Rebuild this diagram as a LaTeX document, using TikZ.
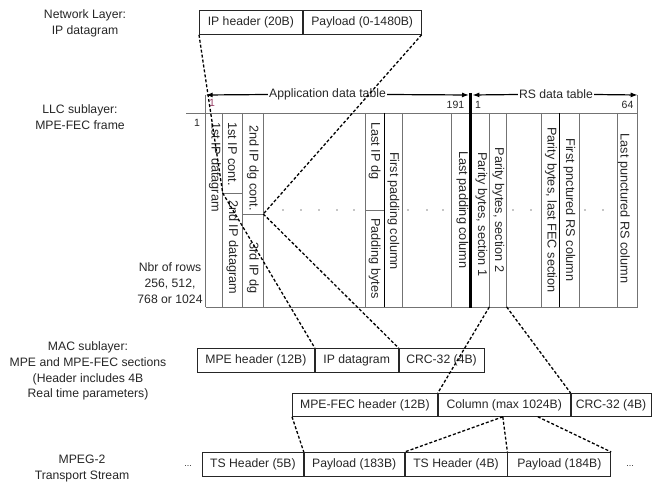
\documentclass[tikz,border=0pt]{standalone}
\usepackage{fontspec}
\setmainfont{Liberation Sans}
\usetikzlibrary{arrows.meta,calc}
\begin{document}
\begin{tikzpicture}[x=1pt,y=-1pt,
  every node/.style={font=\fontsize{12.2}{15.5}\selectfont, text=black!85},
  cell/.style={draw=black!85, line width=0.8pt, inner sep=0pt, anchor=north west, minimum height=24pt},
  conn/.style={draw=black, line width=1.3pt, dash pattern=on 3pt off 2pt},
  gridline/.style={draw=black!55, line width=0.8pt},
  vlab/.style={rotate=-90, inner sep=0pt, font=\fontsize{12.7}{15}\selectfont},
  lab/.style={align=center, font=\fontsize{12.2}{15.7}\selectfont},
  num/.style={inner sep=0pt, font=\fontsize{10.5}{12}\selectfont},
  tblarrow/.style={line width=1.2pt, -{Latex[length=7pt,width=5pt]}}]

\useasboundingbox (0,0) rectangle (652,486);

% left labels
\node[lab] (netl) at (85,23) {Network Layer:\\IP datagram};
\node[lab] (llcl) at (80,117) {LLC sublayer:\\MPE-FEC frame};
\node[lab] (nbrl) at (170,283) {Nbr of rows\\256, 512,\\768 or 1024};
\node[lab] (macl) at (88,371) {MAC sublayer:\\MPE and MPE-FEC sections\\(Header includes 4B\\Real time parameters)};
\node[lab] (mpgl) at (82,468.5) {MPEG-2\\Transport Stream};

% IP datagram
\node[cell, minimum width=103pt] (iph) at (199,10) {IP header (20B)};
\node[cell, minimum width=118pt] (ipp) at (iph.north east) {Payload (0-1480B)};

% table frame
\draw[gridline] (186,113) -- (637.7,113);
\draw[gridline] (205.7,307) -- (637.7,307);
\draw[gridline] (205.7,95) -- (205.7,307);
\draw[gridline] (637.7,95) -- (637.7,307);
\foreach \x in {222.7,242.3,263.3,365,402.7,451.7,489.3,506.7,541.7,579,617.3}
  \draw[gridline] (\x,113) -- (\x,307);
\draw[black, line width=1.6pt] (384.3,113) -- (384.3,307);
\draw[black, line width=1.6pt] (559.3,113) -- (559.3,307);
\draw[black, line width=3.5pt] (470.7,93) -- (470.7,308);
\draw[gridline] (222.7,193) -- (242.3,193);
\draw[gridline] (242.3,214) -- (263.3,214);
\draw[gridline] (365,210) -- (384.3,210);
\foreach \x in {283,301,319,337,354,408,427,443,513,531,585,603}
  \fill[black!45] (\x,210) circle (0.8pt);

% table headings
\coordinate (tleft) at (205.7,95);
\coordinate (tmidl) at (469,95);
\coordinate (tmidr) at (472.4,95);
\coordinate (tright) at (637.7,95);
\node[inner sep=1pt] (appl) at (327.5,94.5) {Application data table};
\node[inner sep=1pt] (rsl) at (556,94.5) {RS data table};
\draw[tblarrow] (appl.west) -- (tleft);
\draw[tblarrow] (appl.east) -- (tmidl);
\draw[tblarrow] (rsl.west) -- (tmidr);
\draw[tblarrow] (rsl.east) -- (tright);
\node[num] (n191) at (455.5,105) {191};
\node[num] (n1r) at (478,105) {1};
\node[num] (n64) at (627.5,105) {64};
\node[num] (nrow) at (197,123) {1};
\node[num, text={rgb,255:red,150;green,60;blue,100}] (n1a) at (212,103) {1};

% column labels
\node[vlab, anchor=west] (l1) at (215,122) {1st IP datagram};
\node[vlab, anchor=west] (l2) at (232.5,122) {1st IP cont.};
\node[vlab, anchor=west] (l3) at (232.5,200) {2nd IP datagram};
\node[vlab, anchor=west] (l4) at (252.8,125) {2nd IP dg cont.};
\node[vlab, anchor=west] (l5) at (252.8,242) {3rd IP dg};
\node[vlab, anchor=west] (l6) at (374.7,122) {Last IP dg};
\node[vlab, anchor=west] (l7) at (374.7,218) {Padding bytes};
\node[vlab] (l8) at (393.5,211) {First padding column};
\node[vlab] (l9) at (462.5,210) {Last padding column};
\node[vlab] (l10) at (481.5,214.5) {Parity bytes, section 1};
\node[vlab] (l11) at (498.5,210) {Parity bytes, section 2};
\node[vlab] (l12) at (551,210) {Parity bytes, last FEC section};
\node[vlab] (l13) at (569.5,210) {First pnctured RS column};
\node[vlab] (l14) at (624,208.5) {Last punctured RS column};

% MPE section
\node[cell, minimum width=117pt] (mpeh) at (197,348) {MPE header (12B)};
\node[cell, minimum width=83pt] (mpeip) at (mpeh.north east) {IP datagram};
\node[cell, minimum width=85pt] (mpecrc) at (mpeip.north east) {CRC-32 (4B)};

% MPE-FEC section
\node[cell, minimum width=145pt, minimum height=23pt] (fech) at (292,393) {MPE-FEC header (12B)};
\node[cell, minimum width=132pt, minimum height=23pt] (fecc) at (fech.north east) {Column (max 1024B)};
\node[cell, minimum width=80pt, minimum height=23pt] (feccrc) at (fecc.north east) {CRC-32 (4B)};

% TS packets
\node[cell, minimum width=101pt] (tsh1) at (202,452) {TS Header (5B)};
\node[cell, minimum width=100pt] (tsp1) at (tsh1.north east) {Payload (183B)};
\node[cell, minimum width=102pt] (tsh2) at (tsp1.north east) {TS Header (4B)};
\node[cell, minimum width=103pt] (tsp2) at (tsh2.north east) {Payload (184B)};
\node[font=\fontsize{9}{10}\selectfont] (dl) at (188,466) {...};
\node[font=\fontsize{9}{10}\selectfont] (dr) at (630,466) {...};

% connectors
\coordinate (s2) at (222.7,193);
\coordinate (s3) at (263.3,214);
\coordinate (rsa) at (489.3,307);
\coordinate (rsb) at (506.7,307);
\coordinate (ca) at ($(fecc.south west)+(65,0)$);
\coordinate (cb) at ($(fecc.south west)+(100,0)$);
\draw[conn] (iph.south west) -- (s2);
\draw[conn] (ipp.south east) -- (s3);
\draw[conn] (s2) -- (mpeh.north east);
\draw[conn] (s3) -- (mpeip.north east);
\draw[conn] (rsa) -- (fech.north east);
\draw[conn] (rsb) -- (fecc.north east);
\draw[conn] (fech.south west) -- (tsh1.north east);
\draw[conn] (ca) -- (tsp1.north east);
\draw[conn] (ca) -- (tsh2.north east);
\draw[conn] (cb) -- (tsp2.north east);
\end{tikzpicture}
\end{document}
